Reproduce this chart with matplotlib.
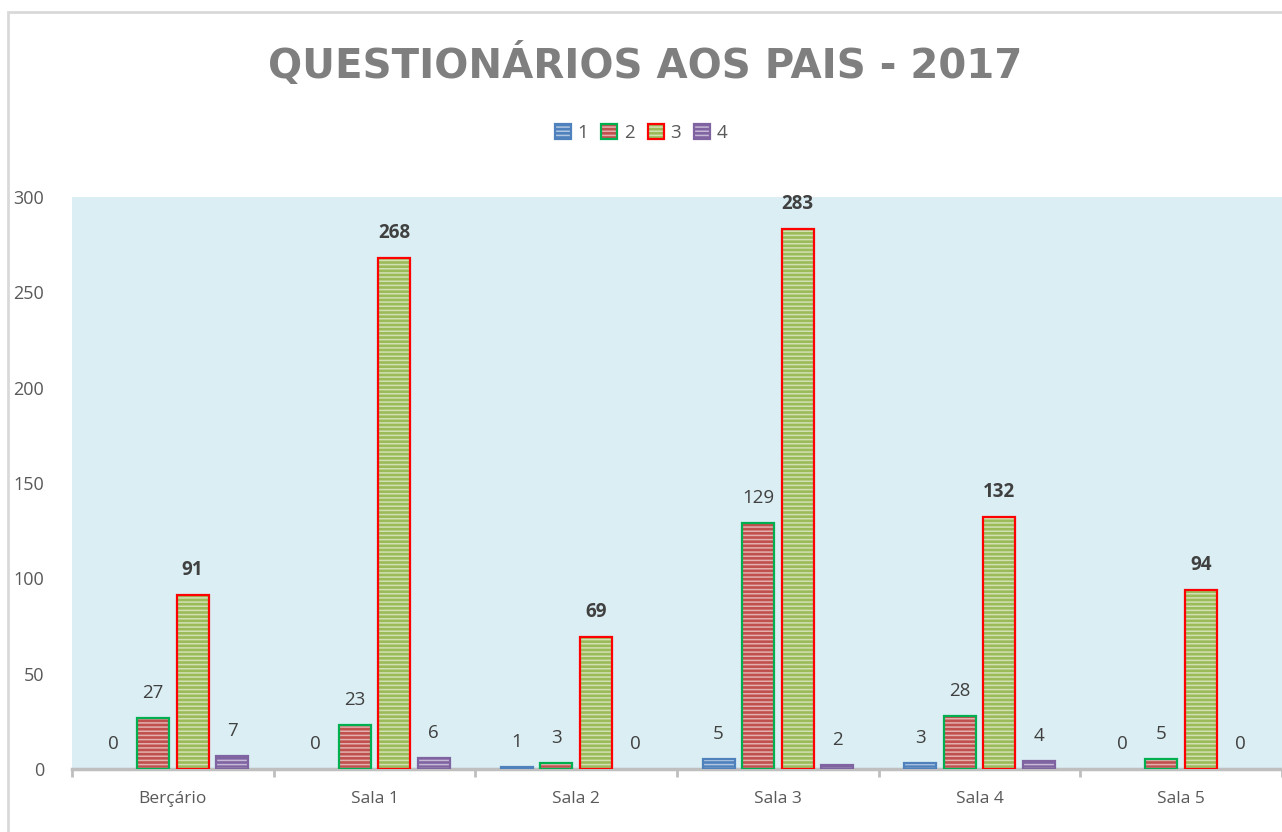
import matplotlib
matplotlib.use('Agg')
import matplotlib.pyplot as plt
import numpy as np
from matplotlib.patches import Patch, Rectangle
from matplotlib.colors import to_rgb

plt.rcParams['font.family'] = ['Open Sans', 'DejaVu Sans']
plt.rcParams['hatch.linewidth'] = 1.1

# ---- data ----
categories = ['Berçário', 'Sala 1', 'Sala 2', 'Sala 3', 'Sala 4', 'Sala 5']
series_names = ['1', '2', '3', '4']
s1 = [0, 0, 1, 5, 3, 0]
s2 = [27, 23, 3, 129, 28, 5]
s3 = [91, 268, 69, 283, 132, 94]
s4 = [7, 6, 0, 2, 4, 0]
values = [s1, s2, s3, s4]

fills = ['#4F81BD', '#C0504D', '#9BBB59', '#8064A2']
edges = ['#4F81BD', '#00B050', '#FF0000', '#8064A2']
label_bold = [False, False, True, False]


def lighten(c, f=0.55):
    r, g, b = to_rgb(c)
    return (r + (1 - r) * f, g + (1 - g) * f, b + (1 - b) * f)


fig = plt.figure(figsize=(12.82, 8.32), dpi=100)
fig.patch.set_facecolor('white')
# chart border (only left/top visible in the reference)
fig.add_artist(Rectangle((8 / 1282, -0.1), 1.2, 1.1 - 12 / 832, transform=fig.transFigure,
                         facecolor='none', edgecolor='#D9D9D9', lw=2))

ax = fig.add_axes([72 / 1282, 1 - 769 / 832, 1 - 72 / 1282, (769 - 197) / 832])
ax.set_facecolor('#DAEEF3')

x = np.arange(len(categories))
step = 0.196
width = 0.159
handles = []
for i, vals in enumerate(values):
    pos = x + (i - 1.5) * step
    ax.bar(pos, vals, width, color=fills[i], edgecolor=lighten(fills[i]), hatch='----',
           linewidth=0, zorder=2)
    lws = [1.6 if v > 0 else 0 for v in vals]
    ax.bar(pos, vals, width, facecolor='none', edgecolor=edges[i], linewidth=lws, zorder=3)
    for px, v in zip(pos, vals):
        ax.annotate(str(v), (px, v), xytext=(0, 18), textcoords='offset points',
                    ha='center', va='center', fontsize=13.5, color='#404040',
                    fontweight='bold' if label_bold[i] else 'normal')
    h1 = Patch(facecolor=fills[i], edgecolor=lighten(fills[i]), hatch='----', linewidth=0)
    h2 = Patch(facecolor='none', edgecolor=edges[i], linewidth=1.6)
    handles.append((h1, h2))

ax.set_xlim(-0.5, len(categories) - 0.5)
ax.set_ylim(0, 300)
ax.set_yticks(np.arange(0, 301, 50))
ax.tick_params(axis='y', length=0, pad=20, labelsize=13, labelcolor='#595959')

ax.set_xticks(np.arange(-0.5, len(categories), 1.0))
ax.set_xticklabels([])
ax.tick_params(axis='x', which='major', length=6, width=2, color='#BFBFBF')
ax.set_xticks(x, minor=True)
ax.set_xticklabels(categories, minor=True)
ax.tick_params(axis='x', which='minor', length=0, pad=16, labelsize=12.5, labelcolor='#595959')

for s in ['left', 'right', 'top']:
    ax.spines[s].set_visible(False)
ax.spines['bottom'].set_color('#BFBFBF')
ax.spines['bottom'].set_linewidth(2.5)

fig.text(0.503, 1 - 65 / 832, 'QUESTIONÁRIOS AOS PAIS - 2017', ha='center', va='center',
         fontsize=29, fontweight='bold', color='#7F7F7F', family='DejaVu Sans')

fig.legend(handles, series_names, loc='center', bbox_to_anchor=(0.5, 1 - 133 / 832),
           ncol=4, frameon=False, fontsize=13.5, handlelength=0.85, handleheight=0.85,
           handletextpad=0.35, columnspacing=0.7, labelcolor='#595959')

plt.savefig('out.png', dpi=100)
